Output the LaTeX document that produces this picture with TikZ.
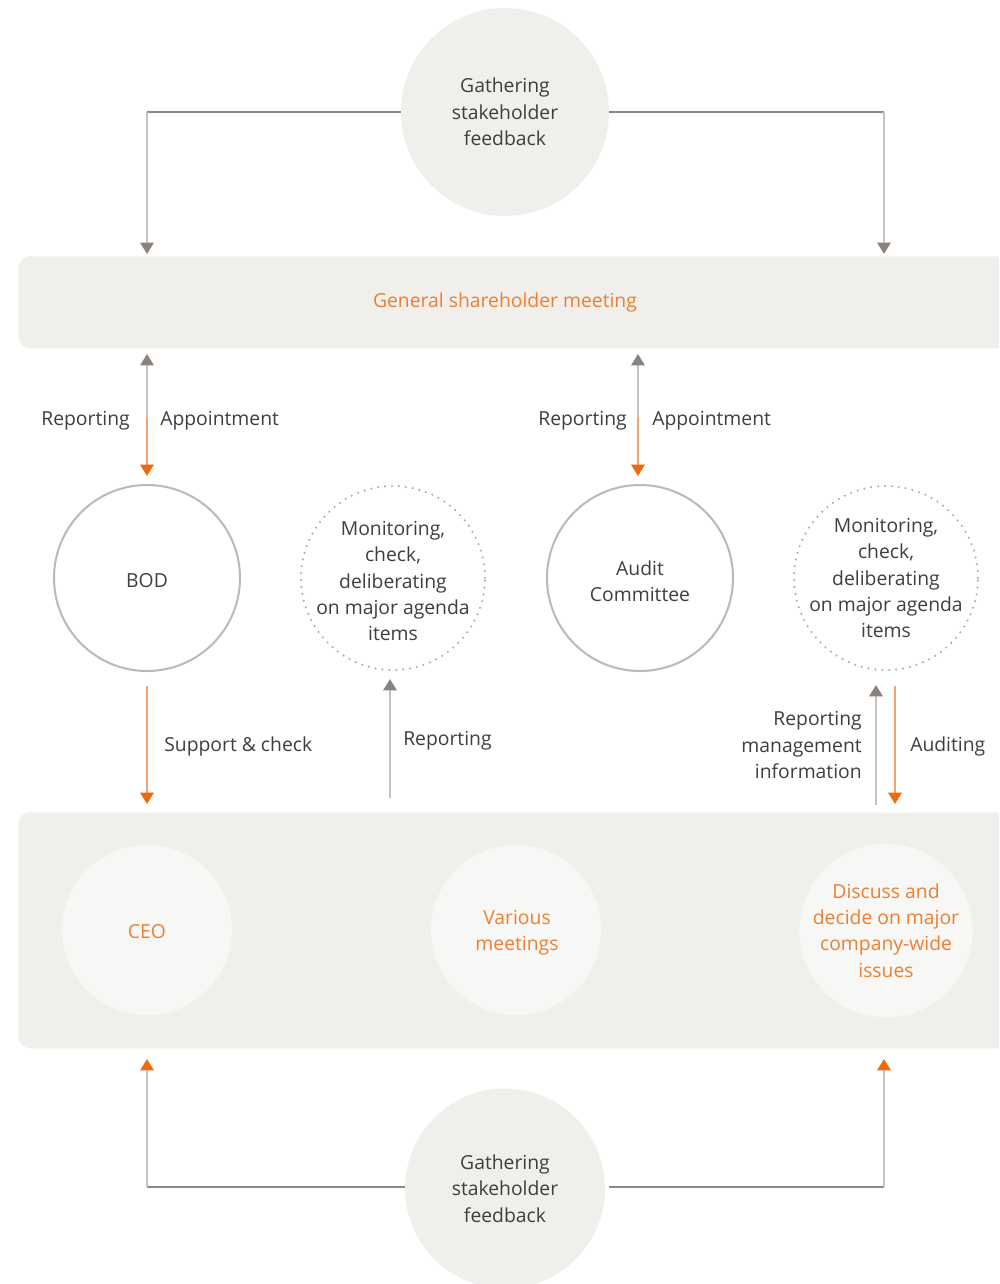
\documentclass[tikz,border=0pt]{standalone}
\usepackage{fontspec}
\setmainfont{Open Sans}
\usetikzlibrary{arrows.meta}
\definecolor{bgfill}{HTML}{F0EFEC}
\definecolor{innerfill}{HTML}{F7F7F5}
\definecolor{ring}{HTML}{BDB8B3}
\definecolor{dotc}{HTML}{ADA7A2}
\definecolor{hline}{HTML}{8F8882}
\definecolor{vline}{HTML}{C8C3BE}
\definecolor{tipgray}{HTML}{8A827C}
\definecolor{orng}{HTML}{EE6A0E}
\definecolor{orline}{HTML}{F3A26E}
\definecolor{ortext}{HTML}{EE7F32}
\definecolor{txtc}{HTML}{3E3E3E}
\begin{document}
\begin{tikzpicture}[x=0.75pt,y=-0.75pt,
  lbl/.style={font=\fontsize{14.5}{19.8}\selectfont, text=txtc, inner sep=0pt, align=center},
  olbl/.style={lbl, text=ortext},
  softcircle/.style={circle, fill=bgfill, inner sep=0pt},
  ringcircle/.style={circle, draw=ring, line width=1.5pt, minimum size=139.5pt, inner sep=0pt},
  dotcircle/.style={circle, draw=dotc, line width=1.7pt, dash pattern=on 0pt off 5.2pt, line cap=round, minimum size=138pt, inner sep=0pt},
  innercircle/.style={circle, fill=innerfill, minimum size=127.5pt, inner sep=0pt},
  bar/.style={rectangle, rounded corners=9pt, fill=bgfill, inner sep=0pt},
  hl/.style={draw=hline, line width=1.1pt},
  gray arrow/.style={draw=vline, line width=1.5pt, -{Triangle[width=10pt,length=8.5pt,color=tipgray]}},
  orange arrow/.style={draw=orline, line width=1.5pt, -{Triangle[width=10pt,length=8.5pt,color=orng]}},
  vorange arrow/.style={draw=vline, line width=1.5pt, -{Triangle[width=10pt,length=8.5pt,color=orng]}}
]
\useasboundingbox (0,0) rectangle (999,1284);
\clip (0,0) rectangle (999,1284);

% bars
\node[bar, minimum width=780pt, minimum height=69pt, anchor=north west] (gsm) at (18,256) {};
\node[bar, minimum width=780pt, minimum height=177pt, anchor=north west] (ops) at (18,812) {};
\node[olbl] (gsmtext) at (505,302.5) {General shareholder meeting};

% top and bottom feedback circles
\node[softcircle, minimum size=156pt, lbl] (top) at (505,112) {Gathering\\stakeholder\\feedback};
\node[softcircle, minimum size=150pt, lbl] (bottom) at (505,1188.5) {Gathering\\stakeholder\\feedback};

% middle circles
\node[ringcircle] (bod) at (147,578) {};
\node[lbl] (bodtext) at (147,581) {BOD};
\node[dotcircle] (mon1) at (393,578) {};
\node[lbl] (mon1text) at (393,581) {Monitoring,\\check,\\deliberating\\on major agenda\\items};
\node[ringcircle] (audit) at (640,578) {};
\node[lbl] (audittext) at (640,581.5) {Audit\\Committee};
\node[dotcircle] (mon2) at (886,578) {};
\node[lbl] (mon2text) at (886,578) {Monitoring,\\check,\\deliberating\\on major agenda\\items};

% inner circles
\node[innercircle] (ceo) at (147,930) {};
\node[olbl] (ceotext) at (147,931.5) {CEO};
\node[innercircle] (meet) at (516,930) {};
\node[olbl] (meettext) at (517,932.5) {Various\\meetings};
\node[innercircle, olbl] (decide) at (886,930.5) {Discuss and\\decide on major\\company-wide\\issues};

% coordinates
\coordinate (tl) at (147,112);
\coordinate (tlend) at (147,254);
\coordinate (tr) at (884,112);
\coordinate (trend) at (884,254);
\coordinate (a1top) at (147,354);
\coordinate (a1mid) at (147,418);
\coordinate (a1bot) at (147,476);
\coordinate (a2top) at (638,354);
\coordinate (a2mid) at (638,418);
\coordinate (a2bot) at (638,476);
\coordinate (s1) at (147,686);
\coordinate (s2) at (147,804);
\coordinate (r1) at (390,798);
\coordinate (r2) at (390,679);
\coordinate (m1) at (876,805);
\coordinate (m2) at (876,685);
\coordinate (d1) at (895,686);
\coordinate (d2) at (895,804);
\coordinate (bl) at (147,1187);
\coordinate (blend) at (147,1059);
\coordinate (br) at (884,1187);
\coordinate (brend) at (884,1059);
\coordinate (bstartL) at (405,1187);
\coordinate (bstartR) at (609,1187);

% top connectors
\draw[hl] (top.west) -- (tl);
\draw[gray arrow] (tl) -- (tlend);
\draw[hl] (top.east) -- (tr);
\draw[gray arrow] (tr) -- (trend);

% GSM <-> BOD / Audit
\draw[gray arrow] (a1mid) -- (a1top);
\draw[orange arrow] (a1mid) -- (a1bot);
\draw[gray arrow] (a2mid) -- (a2top);
\draw[orange arrow] (a2mid) -- (a2bot);
\node[lbl, anchor=east] (rep1) at (130,420.5) {Reporting};
\node[lbl, anchor=west] (app1) at (160,420.5) {Appointment};
\node[lbl, anchor=east] (rep2) at (627,420.5) {Reporting};
\node[lbl, anchor=west] (app2) at (652,420.5) {Appointment};

% lower arrows
\draw[orange arrow] (s1) -- (s2);
\node[lbl, anchor=west] (sup) at (164,746) {Support \& check};
\draw[gray arrow] (r1) -- (r2);
\node[lbl, anchor=west] (rep3) at (403,740.5) {Reporting};
\draw[gray arrow] (m1) -- (m2);
\node[lbl, anchor=east, align=right] (rep4) at (862,745) {Reporting\\management\\information};
\draw[orange arrow] (d1) -- (d2);
\node[lbl, anchor=west] (aud) at (910,746) {Auditing};

% bottom connectors
\draw[hl] (bstartL) -- (bl);
\draw[vorange arrow] (bl) -- (blend);
\draw[hl] (bstartR) -- (br);
\draw[vorange arrow] (br) -- (brend);
\end{tikzpicture}
\end{document}
